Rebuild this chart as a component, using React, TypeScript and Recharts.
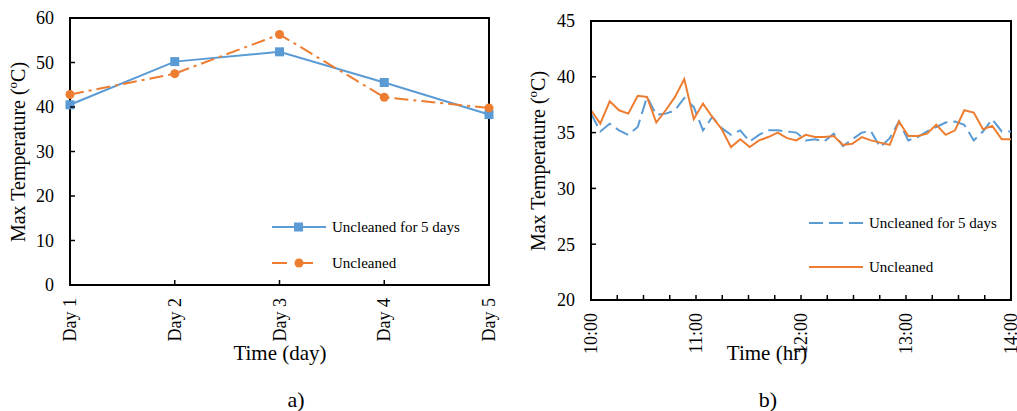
import React from 'react';
import { LineChart, Line, XAxis, YAxis, Legend, ReferenceArea, Label } from 'recharts';

// ---------- Data: chart a) ----------
const days = ['Day 1', 'Day 2', 'Day 3', 'Day 4', 'Day 5'];
const dailyUncleaned5 = [40.5, 50.2, 52.4, 45.5, 38.3];
const dailyUncleaned = [42.8, 47.5, 56.3, 42.2, 39.8];
const dayYTicks = [0, 10, 20, 30, 40, 50, 60];

// ---------- Data: chart b) ----------
const minutes = [
  0, 5.3, 10.7, 16, 21.3, 26.7, 32, 37.3, 42.7, 48, 53.3, 58.7, 64, 69.3, 74.7, 80,
  85.3, 90.7, 96, 101.3, 106.7, 112, 117.3, 122.7, 128, 133.3, 138.7, 144, 149.3,
  154.7, 160, 165.3, 170.7, 176, 181.3, 186.7, 192, 197.3, 202.7, 208, 213.3, 218.7,
  224, 229.3, 234.7, 240,
];
const hourlyUncleaned5 = [
  36.7, 35.1, 35.8, 35.2, 34.8, 35.5, 38.2, 36.6, 36.7, 37.0,
  38.1, 37.3, 35.2, 36.4, 35.4, 34.8, 35.2, 34.2, 34.8, 35.2,
  35.2, 35.1, 35.0, 34.3, 34.4, 34.2, 34.9, 33.8, 34.4, 35.0,
  35.1, 33.7, 34.5, 36.0, 34.3, 34.6, 35.1, 35.5, 35.9, 36.0,
  35.7, 34.3, 35.1, 36.2, 35.1, 35.1,
];
const hourlyUncleaned = [
  37.0, 35.8, 37.8, 37.0, 36.7, 38.3, 38.2, 35.9, 37.0, 38.2,
  39.8, 36.2, 37.6, 36.4, 35.3, 33.7, 34.4, 33.7, 34.3, 34.6,
  35.0, 34.5, 34.3, 34.8, 34.6, 34.6, 34.7, 33.9, 34.0, 34.6,
  34.3, 34.1, 33.9, 36.0, 34.7, 34.7, 34.9, 35.7, 34.8, 35.2,
  37.0, 36.8, 35.3, 35.6, 34.4, 34.4,
];
const timeTicks = [0, 15, 30, 45, 60, 75, 90, 105, 120, 135, 150, 165, 180, 195, 210, 225, 240];
const timeLabels: Record<number, string> = { 0: '10:00', 60: '11:00', 120: '12:00', 180: '13:00', 240: '14:00' };
const hourYTicks = [20, 25, 30, 35, 40, 45];

const dayData = days.map((d, i) => ({ day: d, u5: dailyUncleaned5[i], u: dailyUncleaned[i] }));
const hourData = minutes.map((m, i) => ({ t: m, u5: hourlyUncleaned5[i], u: hourlyUncleaned[i] }));

const FONT = "'Liberation Serif', 'Times New Roman', serif";
const BLUE = '#5B9BD5';
const ORANGE = '#ED7D31';
const TXT = { fontFamily: FONT };

const YTick = (props: any) => {
  const { x, y, payload } = props;
  return (
    <g>
      <line x1={x} y1={y} x2={x + 5} y2={y} stroke="#000" strokeWidth={1.5} />
      <text x={x - 16} y={y} dy="0.35em" textAnchor="end" fontSize={18} fontFamily={FONT} style={TXT} fill="#000">
        {payload.value}
      </text>
    </g>
  );
};

const DayTick = (props: any) => {
  const { x, y, payload } = props;
  return (
    <g>
      <line x1={x} y1={y} x2={x} y2={y - 5} stroke="#000" strokeWidth={1.5} />
      <text transform={`translate(${x + 6},${y + 13}) rotate(-90)`} textAnchor="end" fontSize={18} fontFamily={FONT} style={TXT} fill="#000">
        {payload.value}
      </text>
    </g>
  );
};

const TimeTick = (props: any) => {
  const { x, y, payload } = props;
  const label = timeLabels[payload.value];
  return (
    <g>
      <line x1={x} y1={y} x2={x} y2={y - 5} stroke="#000" strokeWidth={1.5} />
      {label ? (
        <text transform={`translate(${x + 6},${y + 13}) rotate(-90)`} textAnchor="end" fontSize={18} fontFamily={FONT} style={TXT} fill="#000">
          {label}
        </text>
      ) : null}
    </g>
  );
};

const yTitle = (cx: number, cy: number) => () => (
  <text transform={`translate(${cx},${cy}) rotate(-90)`} textAnchor="middle" fontSize={20} fontFamily={FONT} style={TXT} fill="#000">
    Max Temperature (<tspan fontSize={13} dy={-8}>o</tspan><tspan dy={8}>C)</tspan>
  </text>
);

const xTitle = (cx: number, cy: number, txt: string) => () => (
  <text x={cx} y={cy} textAnchor="middle" fontSize={21} fontFamily={FONT} style={TXT} fill="#000">
    {txt}
  </text>
);

const LeftLegend = () => (
  <div style={{ fontFamily: FONT, fontSize: 15, color: '#000', lineHeight: '20px' }}>
    <div style={{ display: 'flex', alignItems: 'center', height: 20 }}>
      <svg width={54} height={12} style={{ display: 'block' }}>
        <line x1={0} y1={6} x2={54} y2={6} stroke={BLUE} strokeWidth={2} />
        <rect x={22} y={1.5} width={9} height={9} fill={BLUE} />
      </svg>
      <span style={{ marginLeft: 6 }}>Uncleaned for 5 days</span>
    </div>
    <div style={{ display: 'flex', alignItems: 'center', height: 20, marginTop: 16 }}>
      <svg width={54} height={12} style={{ display: 'block' }}>
        <line x1={0} y1={6} x2={54} y2={6} stroke={ORANGE} strokeWidth={2} strokeDasharray="15 11 0 0 15" />
        <circle cx={27} cy={6} r={4.5} fill={ORANGE} />
      </svg>
      <span style={{ marginLeft: 6 }}>Uncleaned</span>
    </div>
  </div>
);

const RightLegend = () => (
  <div style={{ fontFamily: FONT, fontSize: 15, color: '#000', lineHeight: '20px' }}>
    <div style={{ display: 'flex', alignItems: 'center', height: 20 }}>
      <svg width={54} height={12} style={{ display: 'block' }}>
        <line x1={0} y1={6} x2={54} y2={6} stroke={BLUE} strokeWidth={2} strokeDasharray="14 6" />
      </svg>
      <span style={{ marginLeft: 6 }}>Uncleaned for 5 days</span>
    </div>
    <div style={{ display: 'flex', alignItems: 'center', height: 20, marginTop: 24 }}>
      <svg width={54} height={12} style={{ display: 'block' }}>
        <line x1={0} y1={6} x2={54} y2={6} stroke={ORANGE} strokeWidth={2} />
      </svg>
      <span style={{ marginLeft: 6 }}>Uncleaned</span>
    </div>
  </div>
);

const SquareDot = (p: any) => (
  <rect key={`sq-${p.index}`} x={p.cx - 4.5} y={p.cy - 4.5} width={9} height={9} fill={BLUE} />
);
const CircleDot = (p: any) => (
  <circle key={`ci-${p.index}`} cx={p.cx} cy={p.cy} r={4.5} fill={ORANGE} />
);

export default function App() {
  return (
    <div style={{ position: 'absolute', left: 0, top: 0, width: 1017, height: 411, background: '#fff', fontFamily: FONT }}>
      <div style={{ position: 'absolute', left: 0, top: 0 }}>
        <LineChart width={520} height={411} data={dayData} margin={{ top: 18, right: 31, bottom: 0, left: 0 }}>
          <XAxis
            dataKey="day"
            height={126}
            axisLine={{ stroke: '#000', strokeWidth: 2 }}
            tickLine={false}
            tickSize={0}
            tickMargin={0}
            tick={<DayTick />}
            interval={0}
          >
            <Label content={xTitle(280, 360, 'Time (day)')} />
          </XAxis>
          <YAxis
            width={70}
            domain={[0, 60]}
            ticks={dayYTicks}
            axisLine={{ stroke: '#000', strokeWidth: 2 }}
            tickLine={false}
            tickSize={0}
            tickMargin={0}
            tick={<YTick />}
            interval={0}
          >
            <Label content={yTitle(25, 152)} />
          </YAxis>
          <ReferenceArea x1="Day 1" x2="Day 5" y1={0} y2={60} fill="none" stroke="#000" strokeWidth={2} />
          <Line
            dataKey="u5"
            stroke={BLUE}
            strokeWidth={2}
            dot={SquareDot}
            isAnimationActive={false}
          />
          <Line
            dataKey="u"
            stroke={ORANGE}
            strokeWidth={2}
            strokeDasharray="14 5 3 5"
            dot={CircleDot}
            isAnimationActive={false}
          />
          <Legend
            layout="vertical"
            align="center"
            verticalAlign="middle"
            content={<LeftLegend />}
            wrapperStyle={{ left: 272, top: 217, width: 240, height: 60 }}
          />
        </LineChart>
      </div>

      <div style={{ position: 'absolute', left: 520, top: 0 }}>
        <LineChart width={497} height={411} data={hourData} margin={{ top: 21, right: 6, bottom: 0, left: 0 }}>
          <XAxis
            dataKey="t"
            type="number"
            domain={[0, 240]}
            ticks={timeTicks}
            height={111}
            axisLine={{ stroke: '#000', strokeWidth: 2 }}
            tickLine={false}
            tickSize={0}
            tickMargin={0}
            tick={<TimeTick />}
            interval={0}
          >
            <Label content={xTitle(247, 360, 'Time (hr)')} />
          </XAxis>
          <YAxis
            width={71}
            domain={[20, 45]}
            ticks={hourYTicks}
            axisLine={{ stroke: '#000', strokeWidth: 2 }}
            tickLine={false}
            tickSize={0}
            tickMargin={0}
            tick={<YTick />}
            interval={0}
          >
            <Label content={yTitle(25, 161)} />
          </YAxis>
          <ReferenceArea x1={0} x2={240} y1={20} y2={45} fill="none" stroke="#000" strokeWidth={2} />
          <Line
            dataKey="u5"
            stroke={BLUE}
            strokeWidth={2}
            strokeDasharray="14 6"
            dot={false}
            isAnimationActive={false}
          />
          <Line
            dataKey="u"
            stroke={ORANGE}
            strokeWidth={2}
            dot={false}
            isAnimationActive={false}
          />
          <Legend
            layout="vertical"
            align="center"
            verticalAlign="middle"
            content={<RightLegend />}
            wrapperStyle={{ left: 289, top: 213, width: 200, height: 70 }}
          />
        </LineChart>
      </div>

      <div style={{ position: 'absolute', left: 296, top: 400, transform: 'translate(-50%, -50%)', fontSize: 22, lineHeight: 1, color: '#000' }}>
        a)
      </div>
      <div style={{ position: 'absolute', left: 768, top: 400, transform: 'translate(-50%, -50%)', fontSize: 22, lineHeight: 1, color: '#000' }}>
        b)
      </div>
    </div>
  );
}
